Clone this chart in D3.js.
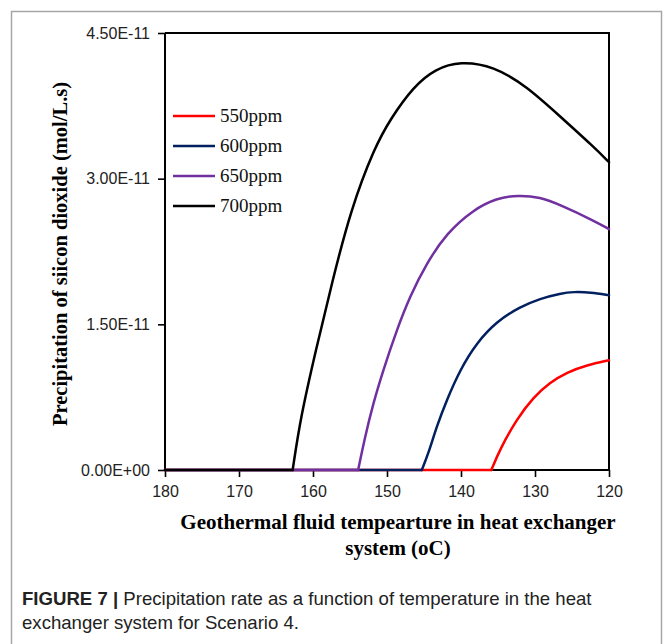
<!DOCTYPE html>
<html>
<head>
<meta charset="utf-8">
<script src="https://cdn.jsdelivr.net/npm/d3@7"></script>
<style>
  html, body { margin: 0; padding: 0; background: #fff; }
  svg { display: block; }
</style>
</head>
<body>
<svg id="chart" width="664" height="644"></svg>
<script>
// ---- data (values in units of 1e-11 mol/L.s) ----
const UNIT = 1e-11;
const seriesNames = ["550ppm", "600ppm", "650ppm", "700ppm"];
const seriesColors = ["#FF0000", "#002060", "#7030A0", "#000000"];

const t550 = [180, 135.9, 134.7, 132.5, 130.2, 128.0, 125.7, 123.0, 120];
const v550 = [0, 0, 0.22, 0.52, 0.75, 0.90, 1.005, 1.08, 1.13];

const t600 = [180, 145.3, 144.4, 143.28, 141.93, 140.14, 137.88, 135.18, 132.03, 129.32, 126.5, 124.8, 122.5, 120];
const v600 = [0, 0, 0.17, 0.45, 0.72, 1.03, 1.31, 1.53, 1.68, 1.765, 1.82, 1.835, 1.83, 1.80];

const t650 = [180, 153.9, 152.97, 151.85, 150.5, 148.69, 146.89, 144.64, 141.93, 138.34, 135.18, 132.26, 129.32, 126.6, 122.1, 120];
const v650 = [0, 0, 0.34, 0.69, 1.03, 1.44, 1.79, 2.13, 2.44, 2.68, 2.80, 2.83, 2.81, 2.73, 2.57, 2.48];

const t700 = [180, 162.75, 161.66, 159.6, 157.4, 154.9, 151.7, 149.5, 146.4, 143.5, 140.1, 135.6, 131.1, 126.6, 122.1, 120];
const v700 = [0, 0, 0.55, 1.24, 1.94, 2.68, 3.32, 3.62, 3.95, 4.13, 4.21, 4.16, 3.95, 3.64, 3.33, 3.17];

const xTicks = [180, 170, 160, 150, 140, 130, 120];
const yTicks = [0, 1.5e-11, 3.0e-11, 4.5e-11];
const yTickLabels = ["0.00E+00", "1.50E-11", "3.00E-11", "4.50E-11"];

const series = [
  { name: seriesNames[0], color: seriesColors[0], t: t550, v: v550 },
  { name: seriesNames[1], color: seriesColors[1], t: t600, v: v600 },
  { name: seriesNames[2], color: seriesColors[2], t: t650, v: v650 },
  { name: seriesNames[3], color: seriesColors[3], t: t700, v: v700 }
];

// ---- layout ----
const svg = d3.select("#chart");
const pL = 165, pR = 609, pT = 33, pB = 470;

const x = d3.scaleLinear().domain([180, 120]).range([pL, pR]);
const y = d3.scaleLinear().domain([0, 4.5e-11]).range([pB, pT]);

// outer figure border
svg.append("rect")
  .attr("x", 11.5).attr("y", 11.5)
  .attr("width", 650).attr("height", 640)
  .attr("fill", "none").attr("stroke", "#a6a6a6").attr("stroke-width", 1.5);

// plot frame (top & right)
svg.append("path")
  .attr("d", `M${pL},${pT}H${pR}V${pB}`)
  .attr("fill", "none").attr("stroke", "#000").attr("stroke-width", 2);

// axes
const xAxis = d3.axisBottom(x).tickValues(xTicks).tickSize(7).tickPadding(9)
  .tickFormat(d3.format("d"));
const gx = svg.append("g").attr("transform", `translate(0,${pB})`).call(xAxis);
gx.select(".domain").attr("stroke-width", 2).attr("d", `M${pL},0H${pR}`);
gx.selectAll(".tick line").attr("stroke-width", 1.6);
gx.selectAll(".tick text")
  .attr("font-family", "'Liberation Sans', Arial, sans-serif")
  .attr("font-size", 16).attr("fill", "#222");

const yAxis = d3.axisLeft(y).tickValues(yTicks).tickSize(7).tickPadding(8)
  .tickFormat((d, i) => yTickLabels[i]);
const gy = svg.append("g").attr("transform", `translate(${pL},0)`).call(yAxis);
gy.select(".domain").attr("stroke-width", 2).attr("d", `M0,${pT}V${pB}`);
gy.selectAll(".tick line").attr("stroke-width", 1.6);
gy.selectAll(".tick text")
  .attr("font-family", "'Liberation Sans', Arial, sans-serif")
  .attr("font-size", 16).attr("fill", "#222");

// lines (drawn over the axes): flat zero run straight, rising part smoothed
const flatLine = d3.line()
  .x(d => x(d[0]))
  .y(d => y(d[1] * UNIT));
const smoothLine = d3.line()
  .x(d => x(d[0]))
  .y(d => y(d[1] * UNIT))
  .curve(d3.curveBasis);

const lineG = svg.append("g");
series.forEach(s => {
  const pts = s.t.map((t, i) => [t, s.v[i]]);
  let k = 0;
  while (k + 1 < pts.length && pts[k + 1][1] === 0) k++;
  const g = lineG.append("g")
    .attr("fill", "none")
    .attr("stroke", s.color)
    .attr("stroke-width", 2.5)
    .attr("stroke-linejoin", "round")
    .attr("stroke-linecap", "round");
  g.append("path").attr("d", flatLine(pts.slice(0, k + 1)));
  g.append("path").attr("d", smoothLine(pts.slice(k)));
});

// axis titles
svg.append("text")
  .attr("transform", `translate(67,254) rotate(-90)`)
  .attr("text-anchor", "middle")
  .attr("font-family", "'Liberation Serif', 'Times New Roman', serif")
  .attr("font-weight", "bold").attr("font-size", 20.5)
  .text("Precipitation of siicon dioxide (mol/L.s)");

const xt = svg.append("text")
  .attr("text-anchor", "middle")
  .attr("font-family", "'Liberation Serif', 'Times New Roman', serif")
  .attr("font-weight", "bold").attr("font-size", 21);
xt.append("tspan").attr("x", 398).attr("y", 529).text("Geothermal fluid tempearture in heat exchanger");
xt.append("tspan").attr("x", 398).attr("y", 555).text("system (oC)");

// legend
const lg = svg.append("g");
series.forEach((s, i) => {
  const yy = 116 + i * 30;
  lg.append("line")
    .attr("x1", 173).attr("x2", 215).attr("y1", yy).attr("y2", yy)
    .attr("stroke", s.color).attr("stroke-width", 2.6);
  lg.append("text")
    .attr("x", 220).attr("y", yy + 6)
    .attr("font-family", "'Liberation Serif', 'Times New Roman', serif")
    .attr("font-size", 19).attr("fill", "#111")
    .text(s.name);
});

// caption
const cap = svg.append("text")
  .attr("font-family", "'Liberation Sans', Arial, sans-serif")
  .attr("font-size", 18.6).attr("fill", "#222");
const l1 = cap.append("tspan").attr("x", 22).attr("y", 605);
l1.append("tspan").attr("font-weight", "bold").text("FIGURE 7 | ");
l1.append("tspan").text("Precipitation rate as a function of temperature in the heat");
cap.append("tspan").attr("x", 22).attr("y", 629).text("exchanger system for Scenario 4.");
</script>
</body>
</html>
